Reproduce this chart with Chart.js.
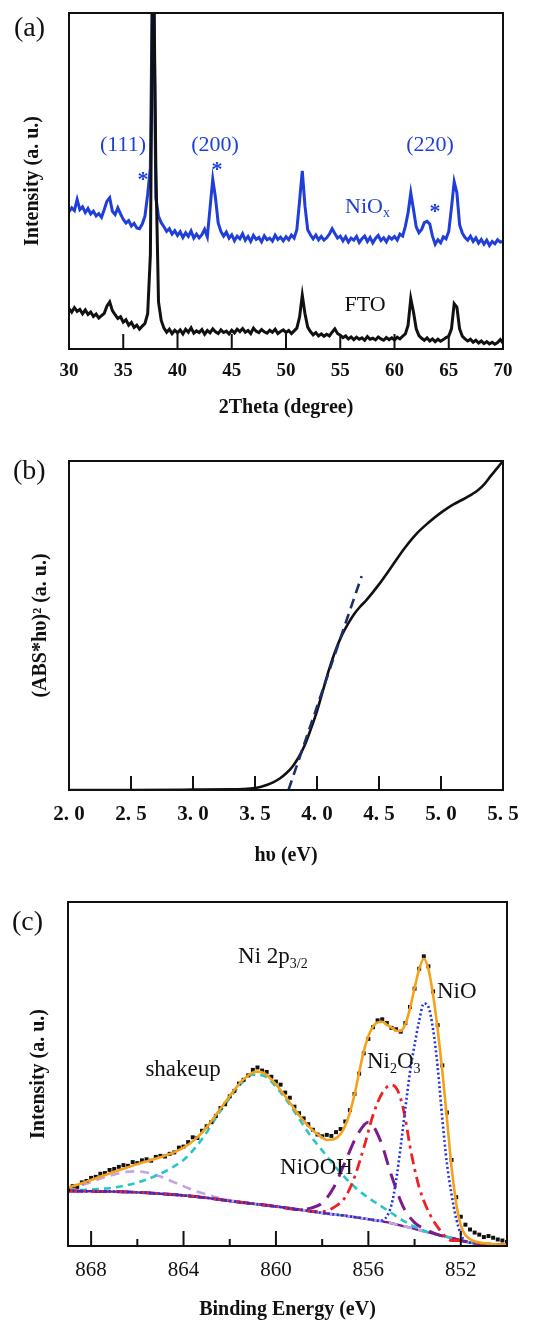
<!DOCTYPE html>
<html>
<head>
<meta charset="utf-8">
<script src="https://cdn.jsdelivr.net/npm/chart.js@4.4.1/dist/chart.umd.min.js"></script>
<style>
  html, body { margin: 0; padding: 0; background: #fff; }
  #page { position: relative; width: 560px; height: 1326px; }
  canvas { position: absolute; left: 0; }
</style>
</head>
<body>
<div id="page">
  <canvas id="chartXrd"  width="560" height="420" style="top:0;width:560px;height:420px"></canvas>
  <canvas id="chartTauc" width="560" height="460" style="top:420px;width:560px;height:460px"></canvas>
  <canvas id="chartXps"  width="560" height="446" style="top:880px;width:560px;height:446px"></canvas>
</div>
<script>
// ===============================
// DATA  (a) XRD, 2theta 30..70 step 0.25, intensity in a.u. (0-100 = frame)
// ===============================
const XRD_START = 30;
const XRD_STEP = 0.25;

const ftoCounts = [
  12.0, 11.0, 12.3, 11.2, 11.8, 10.5, 11.6, 10.3, 11.0, 9.7, 10.4, 9.2, 9.9, 10.6, 12.8, 14.0, 11.4, 10.2, 9.1, 9.6,
  8.0, 8.7, 7.1, 7.9, 6.4, 7.1, 5.9, 6.8, 7.6, 10.5, 28.0, 130, 55.0, 14.0, 8.5, 6.2, 5.0, 5.9, 4.6, 5.6,
  4.8, 5.7, 4.5, 5.9, 5.0, 6.3, 4.7, 5.4, 4.9, 5.8, 4.4, 5.5, 4.8, 6.0, 5.1, 4.6, 5.7, 4.9, 5.3, 4.5,
  5.6, 4.8, 5.9, 5.2, 6.1, 5.0, 5.5, 4.6, 6.2, 5.3, 4.9, 5.8, 5.1, 4.7, 5.6, 5.0, 5.9, 4.6, 5.2, 5.7,
  4.9, 5.5, 4.6, 5.4, 6.2, 9.5, 16.0, 10.5, 6.5, 5.2, 4.2, 4.9, 3.9, 4.5, 3.8, 4.4, 3.9, 5.0, 6.0, 4.6,
  4.1, 3.4, 3.9, 3.0, 3.6, 2.8, 3.5, 2.9, 3.3, 2.6, 3.7, 2.9, 3.2, 2.7, 3.6, 3.0, 2.6, 3.4, 2.8, 3.3,
  2.7, 3.5, 3.0, 3.8, 4.5, 7.0, 15.0, 11.0, 6.0, 4.0, 3.2, 2.6, 3.3, 2.4, 3.0, 2.2, 2.9, 2.3, 2.8, 3.4,
  3.8, 6.0, 13.5, 12.5, 6.0, 3.8, 3.0, 2.4, 2.9, 2.0, 2.6, 1.8, 2.4, 1.6, 2.2, 1.5, 2.0, 1.4, 1.9, 2.8,
  1.8
];

const nioxCounts = [
  40.9, 42.0, 41.2, 44.5, 41.5, 42.3, 40.6, 41.8, 40.2, 41.0, 39.6, 40.3, 39.2, 41.5, 44.0, 45.0, 41.0, 40.0, 42.0, 40.2,
  38.6, 37.5, 38.2, 36.6, 37.4, 36.0, 35.8, 37.2, 39.5, 46.0, 54.0, 130, 45.0, 39.5, 37.6, 36.4, 35.0, 35.8, 34.2, 35.2,
  33.8, 34.9, 33.2, 34.6, 33.5, 35.1, 33.0, 34.2, 33.1, 34.0, 35.6, 33.4, 42.0, 50.5, 45.0, 37.5, 35.0, 33.6, 34.8, 33.0,
  34.0, 32.2, 33.6, 32.8, 34.3, 32.4, 33.5, 32.0, 33.8, 32.6, 33.2, 31.9, 33.7, 32.5, 33.0, 32.1, 33.9, 32.6, 33.3, 32.2,
  33.4, 32.5, 33.9, 33.0, 35.5, 44.0, 53.0, 42.5, 35.5, 34.0, 32.8, 33.9, 32.5, 33.5, 32.4, 33.1, 34.2, 35.8, 34.4, 33.0,
  33.6, 32.2, 33.4, 31.8, 33.0, 32.4, 33.5, 31.7, 32.8, 33.6, 32.0, 33.2, 31.6, 32.9, 33.8, 32.3, 33.1, 31.9, 33.4, 32.7,
  33.5, 32.4, 34.2, 33.6, 36.5, 40.5, 46.5, 41.5, 36.4, 34.6, 35.6, 37.6, 38.0, 37.2, 33.6, 31.2, 32.5, 31.6, 33.4, 32.8,
  35.0, 42.0, 49.8, 46.5, 37.0, 34.5, 33.2, 32.4, 33.6, 32.0, 33.1, 31.5, 32.6, 31.2, 32.4, 30.8, 32.0, 31.3, 32.5, 31.8,
  32.0
];

// ===============================
// DATA  (b) Tauc plot
// ===============================
const taucEnergy = [2.0, 2.5, 3.0, 3.3, 3.4, 3.5, 3.55, 3.6, 3.65, 3.7, 3.75, 3.8, 3.85, 3.9, 3.95, 4.0, 4.05, 4.1, 4.15,
  4.2, 4.25, 4.3, 4.35, 4.4, 4.5, 4.6, 4.7, 4.8, 4.9, 5.0, 5.1, 5.2, 5.3, 5.35, 5.4, 5.45, 5.5];
const taucAbs = [0, 0, 0.1, 0.2, 0.3, 0.6, 1.0, 1.6, 2.4, 3.5, 5.0, 7.0, 9.8, 13.5, 18.5, 24.0, 30.5, 37.0, 42.5,
  47.0, 50.5, 53.5, 55.8, 57.8, 62.5, 67.8, 73.2, 77.8, 81.3, 84.3, 86.8, 88.8, 91.2, 93.0, 95.4, 97.7, 100];
const tangentEnergy = [3.77, 4.36];
const tangentAbs = [0, 65];

// ===============================
// DATA  (c) XPS Ni 2p3/2
// ===============================
const XPS_START = 869;
const XPS_STEP = -0.2;
const xpsCounts = [
  16.5, 17.4, 17.2, 18.5, 18.9, 19.8, 20.1, 21.0, 21.2, 22.1, 22.4, 23.0, 23.5, 23.3, 24.4, 24.1, 24.9, 25.2, 24.8, 25.9,
  26.2, 26.0, 26.8, 27.2, 28.6, 28.9, 30.2, 31.6, 31.4, 33.5, 34.8, 36.0, 37.8, 40.1, 41.2, 43.5, 45.1, 47.2, 48.3, 49.6,
  51.2, 51.9, 51.0, 50.6, 49.2, 47.8, 46.9, 44.6, 43.1, 40.5, 38.6, 37.1, 35.4, 33.8, 32.4, 31.9, 32.3, 32.0, 33.1, 34.0,
  36.2, 39.5, 44.2, 50.1, 56.0, 60.2, 63.6, 65.6, 65.9, 64.8, 63.4, 63.0, 62.3, 64.8, 69.5, 74.8, 80.6, 84.2, 81.3, 74.0,
  64.2, 52.5, 38.8, 25.0, 14.2, 8.5, 6.2, 4.8, 3.9, 3.3, 2.6, 2.9, 2.4, 1.9, 1.6, 1.2
];

const fitEnergy = [869, 868.5, 868, 867.5, 867, 866.5, 866, 865.5, 865, 864.5, 864, 863.5, 863, 862.5, 862, 861.5, 861,
  860.8, 860.5, 860, 859.5, 859, 858.5, 858, 857.8, 857.5, 857.2, 857, 856.8, 856.6, 856.4, 856.2, 856, 855.8, 855.6,
  855.4, 855.2, 855, 854.8, 854.6, 854.4, 854.2, 854, 853.8, 853.6, 853.4, 853.2, 853, 852.8, 852.6, 852.4, 852.2, 852,
  851.8, 851.5, 851, 850.5, 850];
const fitValues = [17.0, 18.0, 19.2, 20.4, 21.6, 22.7, 23.8, 24.8, 25.8, 27.0, 28.6, 31.0, 34.5, 39.0, 43.6, 47.8, 50.4,
  50.7, 50.2, 47.0, 42.6, 38.0, 34.2, 31.5, 30.8, 31.0, 32.6, 35.0, 38.8, 44.0, 50.5, 56.5, 61.0, 63.8, 65.0,
  65.2, 64.3, 63.5, 62.6, 62.5, 64.5, 69.0, 75.0, 80.5, 83.5, 80.5, 73.0, 63.0, 51.0, 37.0, 23.0, 12.5, 6.0,
  3.2, 1.6, 0.8, 0.5, 0.4];

const bgEnergy = [869, 868, 867, 866, 865, 864, 863, 862, 861, 860, 859, 858, 857, 856, 855.5, 855, 854.5, 854, 853.5,
  853, 852.5, 852, 851.5, 851, 850.5, 850];
const bgLevel = [16.0, 15.9, 15.8, 15.6, 15.2, 14.7, 14.0, 13.1, 12.3, 11.5, 10.6, 9.6, 8.8, 7.8, 7.3, 6.6, 5.8, 5.0, 4.1,
  3.3, 2.5, 1.6, 0.9, 0.6, 0.5, 0.4];

const nioEnergy = [855.5, 855.2, 855, 854.8, 854.6, 854.4, 854.2, 854, 853.8, 853.6, 853.4, 853.2, 853, 852.8, 852.6,
  852.4, 852.2, 852, 851.8];
const nioValues = [7.3, 8.6, 12.0, 19.0, 29.0, 40.0, 50.5, 58.5, 65.5, 70.5, 69.5, 63.0, 52.0, 37.0, 24.0, 15.0, 8.0, 3.5, 1.4];

const ni2o3Energy = [858.5, 858, 857.5, 857, 856.6, 856.2, 855.8, 855.4, 855, 854.8, 854.6, 854.4, 854.2, 854, 853.8,
  853.5, 853.2, 853, 852.7, 852.4];
const ni2o3Values = [10.1, 10.0, 11.2, 14.2, 20.0, 28.5, 38.0, 44.5, 46.8, 46.0, 42.8, 37.0, 29.0, 22.5, 17.0,
  11.5, 7.5, 5.5, 3.0, 1.6];

const nioohEnergy = [858.5, 858, 857.5, 857, 856.5, 856, 855.5, 855, 854.5, 854, 853.5];
const nioohValues = [11.0, 12.5, 17.0, 24.5, 32.0, 36.0, 31.0, 20.5, 11.5, 6.8, 4.8];

const shakeupEnergy = [869, 868, 867, 866.5, 866, 865.5, 865, 864.5, 864, 863.5, 863, 862.5, 862, 861.5, 861, 860.5,
  860, 859.5, 859, 858.5, 858, 857.5, 857, 856.5, 856, 855.5, 855, 854.5, 854, 853.5, 853];
const shakeupValues = [16.2, 16.4, 17.0, 17.6, 18.4, 19.6, 21.0, 22.8, 25.0, 28.5, 33.0, 38.3, 43.0, 47.2, 49.8, 49.4,
  46.3, 42.0, 37.0, 32.0, 27.8, 23.6, 19.8, 16.6, 14.0, 11.8, 9.6, 7.4, 5.6, 4.2, 3.3];

const satEnergy = [869, 868.5, 868, 867.5, 867, 866.5, 866, 865.5, 865, 864.5, 864, 863.5, 863, 862.5, 862];
const satValues = [16.3, 17.5, 18.6, 19.8, 20.8, 21.5, 21.7, 21.2, 20.2, 18.8, 17.4, 16.0, 15.0, 14.0, 13.3];

// ===============================
// STYLE
// ===============================
const SERIF = '"Liberation Serif", "Times New Roman", serif';
const INK = '#111111';
const BLUE = '#1f3fd8';
Chart.defaults.font.family = SERIF;
Chart.defaults.color = INK;

// ===============================
// TEXT LABELS (data coords unless pixel:true)
// ===============================
const xrdNotes = [
  { segs: [['(a)']], x: 14, y: 29, size: 28, pixel: true },
  { segs: [['(111)']], x: 34.98, y: 60.7, size: 22, color: BLUE, align: 'center' },
  { segs: [['(200)']], x: 43.46, y: 60.7, size: 22, color: BLUE, align: 'center' },
  { segs: [['(220)']], x: 63.27, y: 60.7, size: 22, color: BLUE, align: 'center' },
  { segs: [['*']], x: 36.82, y: 51.5, size: 22, color: BLUE, align: 'center', weight: 'bold', dy: 4 },
  { segs: [['*']], x: 43.64, y: 54.5, size: 22, color: BLUE, align: 'center', weight: 'bold', dy: 4 },
  { segs: [['*']], x: 63.73, y: 41.8, size: 22, color: BLUE, align: 'center', weight: 'bold', dy: 4 },
  { segs: [['NiO'], ['x', true]], x: 55.44, y: 42.3, size: 22, color: BLUE },
  { segs: [['FTO']], x: 57.28, y: 13.1, size: 22, align: 'center' }
];

const taucNotes = [
  { segs: [['(b)']], x: 13, y: 52, size: 28, pixel: true }
];

const xpsNotes = [
  { segs: [['(c)']], x: 12, y: 43, size: 28, pixel: true },
  { segs: [['Ni 2p'], ['3/2', true]], x: 861.64, y: 84.0, size: 23 },
  { segs: [['shakeup']], x: 864.02, y: 51.2, size: 23, align: 'center' },
  { segs: [['Ni'], ['2', true], ['O'], ['3', true]], x: 856.06, y: 53.5, size: 23 },
  { segs: [['NiO']], x: 853.03, y: 73.8, size: 23 },
  { segs: [['NiOOH']], x: 859.82, y: 22.7, size: 23 }
];

// ===============================
// PLUGINS
// ===============================
function frameTicks(majorLen, minorLen) {
  return {
    id: 'frameTicks',
    afterDatasetsDraw(chart) {
      const { ctx, chartArea: a } = chart;
      const xs = chart.scales.x;
      ctx.save();
      ctx.strokeStyle = INK;
      ctx.lineWidth = 2;
      ctx.strokeRect(a.left, a.top, a.right - a.left, a.bottom - a.top);
      xs.ticks.forEach(t => {
        if (t.value <= xs.min || t.value >= xs.max) return;
        const px = xs.getPixelForValue(t.value);
        const len = t.label === '' ? minorLen : majorLen;
        ctx.beginPath();
        ctx.moveTo(px, a.bottom);
        ctx.lineTo(px, a.bottom - len);
        ctx.stroke();
      });
      ctx.restore();
    }
  };
}

function textNotes(items) {
  return {
    id: 'textNotes',
    afterDatasetsDraw(chart) {
      const { ctx } = chart;
      const xs = chart.scales.x, ys = chart.scales.y;
      ctx.save();
      ctx.textBaseline = 'middle';
      ctx.textAlign = 'left';
      items.forEach(n => {
        const px = n.pixel ? n.x : xs.getPixelForValue(n.x);
        const py = (n.pixel ? n.y : ys.getPixelForValue(n.y)) + (n.dy || 0);
        const fontFor = sub => `${n.weight || 'normal'} ${sub ? Math.round(n.size * 0.62) : n.size}px ${SERIF}`;
        let w = 0;
        n.segs.forEach(([t, sub]) => { ctx.font = fontFor(sub); w += ctx.measureText(t).width; });
        let cx = n.align === 'center' ? px - w / 2 : px;
        ctx.fillStyle = n.color || INK;
        n.segs.forEach(([t, sub]) => {
          ctx.font = fontFor(sub);
          ctx.fillText(t, cx, sub ? py + n.size * 0.3 : py);
          cx += ctx.measureText(t).width;
        });
      });
      ctx.restore();
    }
  };
}

// ===============================
// HELPERS
// ===============================
const xrdPoints = vals => vals.map((v, i) => ({ x: XRD_START + i * XRD_STEP, y: v }));
const pairs = (xs, ys) => xs.map((x, i) => ({ x, y: ys[i] }));
// a fitted component drawn on the Shirley background outside its own range
function onBackground(es, vs) {
  const hi = Math.max(...es), lo = Math.min(...es);
  const pts = [];
  bgEnergy.forEach((e, i) => { if (e > hi) pts.push({ x: e, y: bgLevel[i] }); });
  es.forEach((e, i) => pts.push({ x: e, y: vs[i] }));
  bgEnergy.forEach((e, i) => { if (e < lo) pts.push({ x: e, y: bgLevel[i] }); });
  return pts;
}

function baseScales(o) {
  return {
    x: {
      type: 'linear', min: o.xmin, max: o.xmax, reverse: !!o.reverse,
      afterFit: s => { s.height = o.xHeight; },
      grid: { display: false }, border: { display: false },
      ticks: {
        stepSize: o.step, padding: o.tickPad, autoSkip: false, maxRotation: 0, includeBounds: false,
        font: { size: o.tickSize, weight: o.tickWeight }, color: INK,
        callback: o.tickLabel
      },
      title: { display: true, text: o.xTitle, color: INK, font: { size: 20, weight: 'bold' }, padding: { top: 0, bottom: o.xTitlePad } }
    },
    y: {
      min: 0, max: 100,
      afterFit: s => { s.width = o.yWidth; },
      grid: { display: false }, border: { display: false },
      ticks: { display: false },
      title: { display: true, text: o.yTitle, color: INK, font: { size: 20, weight: 'bold' }, padding: { top: o.yTitlePad, bottom: 0 } }
    }
  };
}

const common = {
  responsive: false,
  animation: false,
  events: [],
  plugins: { legend: { display: false }, tooltip: { enabled: false } }
};

// ===============================
// (a) XRD
// ===============================
new Chart(document.getElementById('chartXrd'), {
  type: 'line',
  data: {
    datasets: [
      { label: 'FTO', data: xrdPoints(ftoCounts), borderColor: INK, borderWidth: 3, pointRadius: 0, order: 0 },
      { label: 'NiOx', data: xrdPoints(nioxCounts), borderColor: BLUE, borderWidth: 3, pointRadius: 0, order: 1 }
    ]
  },
  options: {
    ...common,
    layout: { padding: { top: 13, right: 57, left: 0, bottom: 0 } },
    scales: baseScales({
      xmin: 30, xmax: 70, step: 5, xHeight: 71, tickPad: 3, tickSize: 19, tickWeight: 'bold',
      tickLabel: v => String(v), xTitle: '2Theta (degree)', xTitlePad: 0,
      yWidth: 69, yTitle: 'Intensity (a. u.)', yTitlePad: 21
    })
  },
  plugins: [frameTicks(15, 15), textNotes(xrdNotes)]
});

// ===============================
// (b) Tauc
// ===============================
new Chart(document.getElementById('chartTauc'), {
  type: 'line',
  data: {
    datasets: [
      { label: 'tangent', data: pairs(tangentEnergy, tangentAbs), borderColor: '#1d2f6b', borderWidth: 2.6,
        borderDash: [10, 6], pointRadius: 0, order: 0 },
      { label: 'Tauc', data: pairs(taucEnergy, taucAbs), borderColor: INK, borderWidth: 2.6, pointRadius: 0,
        cubicInterpolationMode: 'monotone', order: 1 }
    ]
  },
  options: {
    ...common,
    layout: { padding: { top: 41, right: 57, left: 0, bottom: 0 } },
    scales: baseScales({
      xmin: 2, xmax: 5.5, step: 0.5, xHeight: 90, tickPad: 4, tickSize: 21, tickWeight: 'bold',
      tickLabel: v => v.toFixed(1).replace('.', '. '), xTitle: 'hυ (eV)', xTitlePad: 12,
      yWidth: 69, yTitle: '(ABS*hυ)² (a. u.)', yTitlePad: 29
    })
  },
  plugins: [frameTicks(14, 14), textNotes(taucNotes)]
});

// ===============================
// (c) XPS
// ===============================
new Chart(document.getElementById('chartXps'), {
  type: 'line',
  data: {
    datasets: [
      { label: 'fit', data: pairs(fitEnergy, fitValues), borderColor: '#f5a21b', borderWidth: 2.6, pointRadius: 0,
        cubicInterpolationMode: 'monotone', order: 0 },
      { label: 'data', data: xpsCounts.map((v, i) => ({ x: XPS_START + i * XPS_STEP, y: v })), showLine: false,
        pointStyle: 'rect', pointRadius: 2.8, pointBackgroundColor: INK, pointBorderWidth: 0, order: 1 },
      { label: 'NiO', data: onBackground(nioEnergy, nioValues), borderColor: '#2230e6', borderWidth: 2.6,
        borderDash: [2, 2.5], pointRadius: 0, cubicInterpolationMode: 'monotone', order: 2 },
      { label: 'Ni2O3', data: onBackground(ni2o3Energy, ni2o3Values), borderColor: '#ee2222', borderWidth: 2.8,
        borderDash: [11, 5, 3, 5], pointRadius: 0, cubicInterpolationMode: 'monotone', order: 3 },
      { label: 'NiOOH', data: onBackground(nioohEnergy, nioohValues), borderColor: '#7d1a8c', borderWidth: 3,
        borderDash: [15, 9], pointRadius: 0, cubicInterpolationMode: 'monotone', order: 4 },
      { label: 'shakeup', data: onBackground(shakeupEnergy, shakeupValues), borderColor: '#27c6c6', borderWidth: 2.6,
        borderDash: [7, 5], pointRadius: 0, cubicInterpolationMode: 'monotone', order: 5 },
      { label: 'satellite', data: onBackground(satEnergy, satValues), borderColor: '#c4a4e4', borderWidth: 2.6,
        borderDash: [9, 6], pointRadius: 0, cubicInterpolationMode: 'monotone', order: 6 },
      { label: 'bg dots', data: pairs(bgEnergy, bgLevel), borderColor: '#2fcc3f', borderWidth: 2.4,
        borderDash: [2, 15], pointRadius: 0, cubicInterpolationMode: 'monotone', order: 7 },
      { label: 'background', data: pairs(bgEnergy, bgLevel), borderColor: '#7a1a88', borderWidth: 2.4,
        pointRadius: 0, cubicInterpolationMode: 'monotone', order: 8 }
    ]
  },
  options: {
    ...common,
    layout: { padding: { top: 22, right: 53, left: 0, bottom: 0 } },
    scales: baseScales({
      xmin: 850, xmax: 869, reverse: true, step: 2, xHeight: 80, tickPad: 4, tickSize: 21, tickWeight: 'normal',
      tickLabel: v => ((v - 852) % 4 === 0 ? String(v) : ''), xTitle: 'Binding Energy (eV)', xTitlePad: 4,
      yWidth: 68, yTitle: 'Intensity (a. u.)', yTitlePad: 27
    })
  },
  plugins: [frameTicks(15, 7), textNotes(xpsNotes)]
});
</script>
</body>
</html>
